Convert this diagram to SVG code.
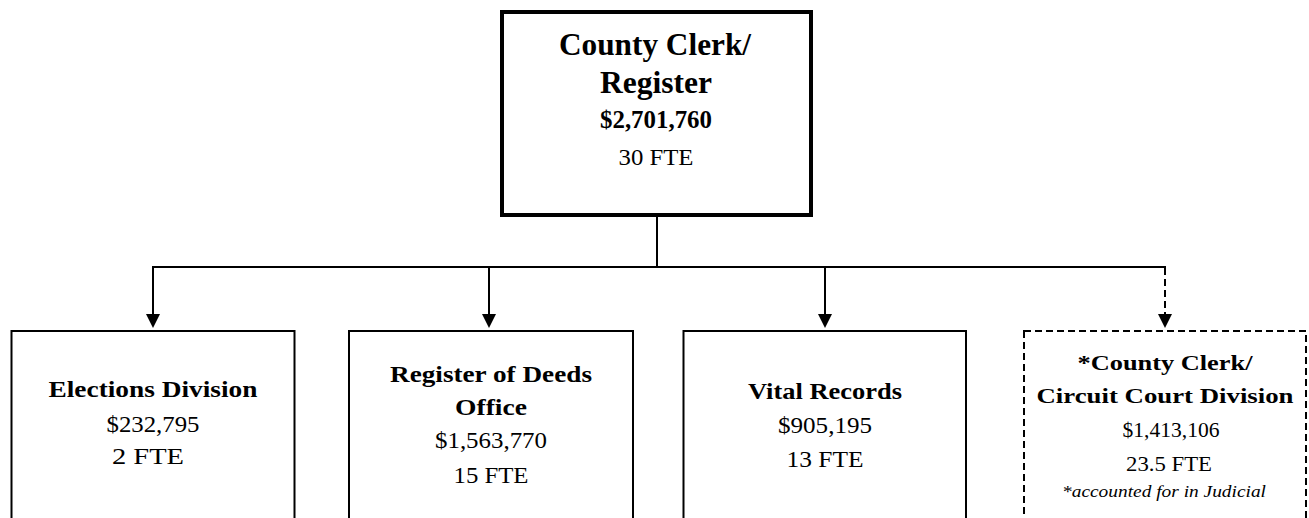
<svg xmlns="http://www.w3.org/2000/svg" width="1309" height="518" viewBox="0 0 1309 518">
  <style>
    .box { fill: #fff; stroke: #000; stroke-width: 2; }
    .top { stroke-width: 4; }
    .dash { stroke-dasharray: 7 4; }
    .wire { fill: none; stroke: #000; stroke-width: 2; }
    text { font-family: "Liberation Serif", "Times New Roman", serif; fill: #000; text-anchor: middle; }
    .b { font-weight: bold; }
    .i { font-style: italic; }
  </style>
  <defs>
    <marker id="arrow" markerUnits="userSpaceOnUse" markerWidth="14" markerHeight="14" refX="0" refY="7" orient="auto">
      <path d="M0,0 L14,7 L0,14 Z" fill="#000"/>
    </marker>
  </defs>

  <!-- connectors -->
  <g id="connectors">
    <line class="wire" x1="657" y1="217" x2="657" y2="267"/>
    <line class="wire" x1="152" y1="267" x2="1166" y2="267"/>
    <line class="wire" x1="153" y1="267" x2="153" y2="314" marker-end="url(#arrow)"/>
    <line class="wire" x1="489" y1="267" x2="489" y2="314" marker-end="url(#arrow)"/>
    <line class="wire" x1="825" y1="267" x2="825" y2="314" marker-end="url(#arrow)"/>
    <line class="wire dash" x1="1165" y1="268" x2="1165" y2="314" marker-end="url(#arrow)"/>
  </g>

  <!-- head office -->
  <g id="county-clerk-register">
    <rect class="box top" x="502" y="12" width="309" height="203"/>
    <text class="b" x="655" y="55" font-size="31" textLength="192" lengthAdjust="spacingAndGlyphs">County Clerk/</text>
    <text class="b" x="656" y="93" font-size="31" textLength="112" lengthAdjust="spacingAndGlyphs">Register</text>
    <text class="b" x="656" y="128" font-size="25" textLength="112" lengthAdjust="spacingAndGlyphs">$2,701,760</text>
    <text x="656" y="165" font-size="23" textLength="75" lengthAdjust="spacingAndGlyphs">30 FTE</text>
  </g>

  <g id="elections-division">
    <rect class="box" x="11.5" y="331" width="283" height="200"/>
    <text class="b" x="153" y="397" font-size="23" textLength="209" lengthAdjust="spacingAndGlyphs">Elections Division</text>
    <text x="153" y="432" font-size="23" textLength="93" lengthAdjust="spacingAndGlyphs">$232,795</text>
    <text x="148" y="464" font-size="23" textLength="72" lengthAdjust="spacingAndGlyphs">2 FTE</text>
  </g>

  <g id="register-of-deeds">
    <rect class="box" x="349" y="331" width="284" height="200"/>
    <text class="b" x="491" y="382" font-size="23" textLength="202" lengthAdjust="spacingAndGlyphs">Register of Deeds</text>
    <text class="b" x="491" y="415" font-size="23" textLength="72" lengthAdjust="spacingAndGlyphs">Office</text>
    <text x="491" y="448" font-size="23" textLength="112" lengthAdjust="spacingAndGlyphs">$1,563,770</text>
    <text x="491" y="483" font-size="23" textLength="75" lengthAdjust="spacingAndGlyphs">15 FTE</text>
  </g>

  <g id="vital-records">
    <rect class="box" x="683.5" y="331" width="282.5" height="200"/>
    <text class="b" x="825" y="399" font-size="23" textLength="154" lengthAdjust="spacingAndGlyphs">Vital Records</text>
    <text x="825" y="433" font-size="23" textLength="94" lengthAdjust="spacingAndGlyphs">$905,195</text>
    <text x="825" y="467" font-size="23" textLength="77" lengthAdjust="spacingAndGlyphs">13 FTE</text>
  </g>

  <g id="circuit-court-division">
    <rect class="box dash" x="1024" y="331" width="282" height="200"/>
    <text class="b" x="1165" y="370" font-size="21" textLength="175" lengthAdjust="spacingAndGlyphs">*County Clerk/</text>
    <text class="b" x="1165" y="403" font-size="21" textLength="257" lengthAdjust="spacingAndGlyphs">Circuit Court Division</text>
    <text x="1171" y="437" font-size="21" textLength="97" lengthAdjust="spacingAndGlyphs">$1,413,106</text>
    <text x="1169" y="471" font-size="21" textLength="86" lengthAdjust="spacingAndGlyphs">23.5 FTE</text>
    <text class="i" x="1164" y="497" font-size="17" textLength="204" lengthAdjust="spacingAndGlyphs">*accounted for in Judicial</text>
  </g>
</svg>
